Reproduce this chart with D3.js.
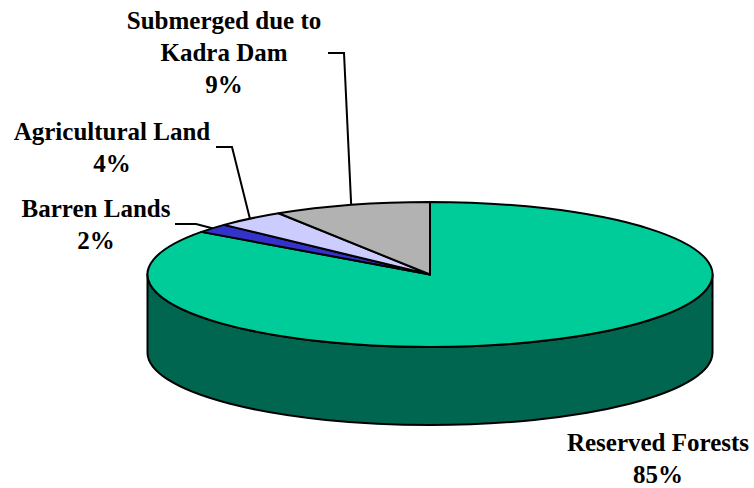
<!DOCTYPE html>
<html>
<head>
<meta charset="utf-8">
<script src="https://cdn.jsdelivr.net/npm/d3@7"></script>
</head>
<body style="margin:0">
<svg id="chart" width="754" height="488"></svg>
<script>
// ---- data ----
const categories = ["Reserved Forests", "Barren Lands", "Agricultural Land", "Submerged due to Kadra Dam"];
const values = [85, 2, 4, 9];
const labelLines = [
  ["Reserved Forests", "85%"],
  ["Barren Lands", "2%"],
  ["Agricultural Land", "4%"],
  ["Submerged due to", "Kadra Dam", "9%"]
];
const topColors = ["#00CC99", "#3333CC", "#CCCCFF", "#B2B2B2"];
const sideColors = ["#006650", "#1A1A66", "#666680", "#595959"];

// ---- layout ----
const cx = 430, cy = 274.5, rx = 282.5, ry = 72.5, depth = 78;
const lineGap = 32;
const labelLayout = [
  { x: 658, y: 451, leader: null },
  { x: 96, y: 217, leader: [[175, 224], [196, 224]] },
  { x: 112, y: 139.5, leader: [[216, 147], [232, 147]] },
  { x: 224, y: 29, leader: [[328, 53], [344, 53]] }
];

const svg = d3.select("#chart");
const pie = d3.pie().sort(null).value(d => d)(values);

const pt = (a, dy = 0) => [cx + rx * Math.sin(a), cy - ry * Math.cos(a) + dy];

// side walls (front half only)
pie.forEach((s, i) => {
  const a0 = Math.max(s.startAngle, Math.PI / 2);
  const a1 = Math.min(s.endAngle, 3 * Math.PI / 2);
  if (a1 <= a0) return;
  const p0 = pt(a0), p1 = pt(a1), q1 = pt(a1, depth), q0 = pt(a0, depth);
  const large = (a1 - a0) > Math.PI ? 1 : 0;
  const d = `M${p0}A${rx},${ry} 0 ${large} 1 ${p1}L${q1}A${rx},${ry} 0 ${large} 0 ${q0}Z`;
  svg.append("path").attr("d", d)
    .attr("fill", sideColors[i]).attr("stroke", "#000").attr("stroke-width", 2)
    .attr("stroke-linejoin", "round");
});

// top faces
pie.forEach((s, i) => {
  const p0 = pt(s.startAngle), p1 = pt(s.endAngle);
  const large = (s.endAngle - s.startAngle) > Math.PI ? 1 : 0;
  const d = `M${cx},${cy}L${p0}A${rx},${ry} 0 ${large} 1 ${p1}Z`;
  svg.append("path").attr("d", d)
    .attr("fill", topColors[i]).attr("stroke", "#000").attr("stroke-width", 2)
    .attr("stroke-linejoin", "round");
});

// leader lines
pie.forEach((s, i) => {
  const L = labelLayout[i].leader;
  if (!L) return;
  const mid = (s.startAngle + s.endAngle) / 2;
  const e = pt(mid);
  svg.append("path")
    .attr("d", d3.line()([...L, e]))
    .attr("fill", "none").attr("stroke", "#000").attr("stroke-width", 2);
});

// labels (centred by measuring, start-anchored)
labelLines.forEach((lines, i) => {
  lines.forEach((ln, j) => {
    const t = svg.append("text")
      .attr("x", labelLayout[i].x)
      .attr("y", labelLayout[i].y + j * lineGap)
      .attr("font-family", "Liberation Serif")
      .attr("font-weight", "bold")
      .attr("font-size", 25)
      .text(ln);
    const w = t.node().getComputedTextLength();
    if (w > 0) t.attr("x", labelLayout[i].x - w / 2);
    else t.attr("text-anchor", "middle");
  });
});
</script>
</body>
</html>
